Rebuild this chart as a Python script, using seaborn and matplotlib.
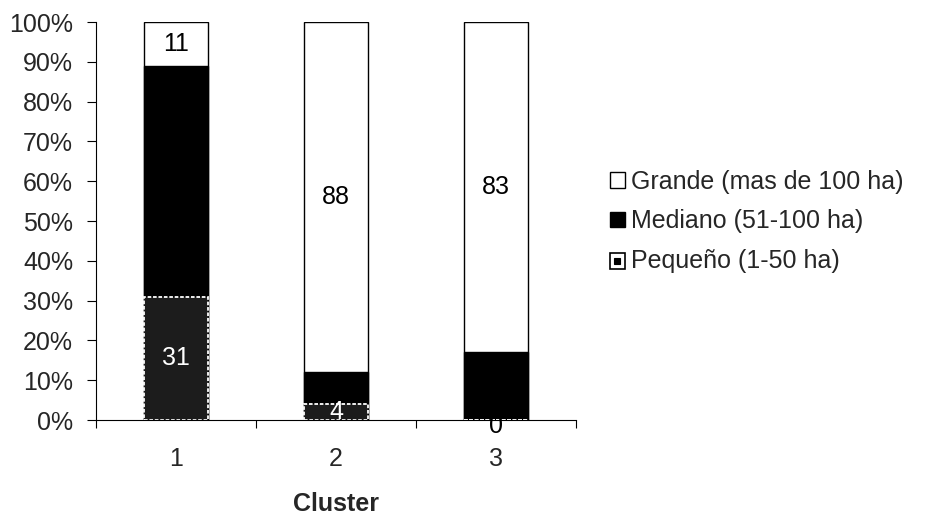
import matplotlib
matplotlib.use("Agg")
import matplotlib.pyplot as plt
import seaborn as sns
import pandas as pd
import numpy as np
from matplotlib.patches import Patch, Rectangle
from matplotlib.legend_handler import HandlerBase
from matplotlib.ticker import FuncFormatter, FixedLocator

clusters = ["1", "2", "3"]
pequeno = [31, 4, 0]
mediano = [58, 8, 17]
grande = [11, 88, 83]
series_names = ["Pequeño (1-50 ha)", "Mediano (51-100 ha)", "Grande (mas de 100 ha)"]

sns.set_theme(style="white")
plt.rcParams['font.family'] = ['Liberation Sans', 'DejaVu Sans']

fig = plt.figure(figsize=(9.28, 5.17), dpi=100)
ax = fig.add_axes([96/928, 1 - 420/517, 480/928, 398/517])

cum1 = np.array(pequeno)
cum2 = cum1 + np.array(mediano)
cum3 = cum2 + np.array(grande)
df = pd.DataFrame({"Cluster": clusters, "c1": cum1, "c2": cum2, "c3": cum3})

sns.barplot(data=df, x="Cluster", y="c3", color="white", edgecolor="black",
            linewidth=1.0, width=0.4, ax=ax, saturation=1)
sns.barplot(data=df, x="Cluster", y="c2", color="black", edgecolor="black",
            linewidth=1.0, width=0.4, ax=ax, saturation=1)
sns.barplot(data=df, x="Cluster", y="c1", color="#1c1c1c", edgecolor="white",
            linewidth=1.3, linestyle=(0, (2, 1)), width=0.4, ax=ax, saturation=1)

fs = 18
for i in range(3):
    ax.text(i, cum2[i] + grande[i] / 2, str(grande[i]), ha="center", va="center",
            fontsize=fs, color="black")
    y = pequeno[i] / 2 if pequeno[i] > 0 else -1.5
    col = "white" if pequeno[i] > 0 else "black"
    ax.text(i, y, str(pequeno[i]), ha="center", va="center", fontsize=fs, color=col)

ax.set_ylim(0, 100)
ax.set_xlim(-0.5, 2.5)
ax.set_yticks(np.arange(0, 101, 10))
ax.yaxis.set_major_formatter(FuncFormatter(lambda v, p: f"{int(v)}%"))
ax.tick_params(axis="y", which="both", left=True, length=6.5, width=0.8, labelsize=fs, pad=10, color="black")
ax.set_xticks([0, 1, 2])
ax.set_xticklabels(clusters)
ax.tick_params(axis="x", bottom=False, labelsize=fs, pad=13.5)
ax.xaxis.set_minor_locator(FixedLocator([-0.5, 0.5, 1.5, 2.5]))
ax.tick_params(axis="x", which="minor", bottom=True, length=6, width=0.8, color="black")
ax.set_xlabel("Cluster", fontsize=fs, fontweight="bold", labelpad=15)
ax.set_ylabel("")
for s in ["top", "right"]:
    ax.spines[s].set_visible(False)
for s in ["left", "bottom"]:
    ax.spines[s].set_color("black")
    ax.spines[s].set_linewidth(0.8)


class DottedSquare(HandlerBase):
    def create_artists(self, legend, orig_handle, xd, yd, w, h, fontsize, trans):
        outer = Rectangle((xd, yd), w, h, facecolor="white", edgecolor="black", lw=1.2, transform=trans)
        inner = Rectangle((xd + w * 0.3, yd + h * 0.3), w * 0.4, h * 0.4, facecolor="black",
                          edgecolor="black", lw=0.8, transform=trans)
        return [outer, inner]


handles = [
    Patch(facecolor="white", edgecolor="black", label=series_names[2]),
    Patch(facecolor="black", edgecolor="black", label=series_names[1]),
    Patch(facecolor="white", edgecolor="black", label=series_names[0]),
]
leg = fig.legend(handles=handles, loc="center left", bbox_to_anchor=(0.633, 0.572),
                 frameon=False, fontsize=18, handlelength=0.6, handleheight=0.6,
                 handletextpad=0.25, labelspacing=0.62,
                 handler_map={handles[2]: DottedSquare()})

fig.savefig("out.png", dpi=100)
